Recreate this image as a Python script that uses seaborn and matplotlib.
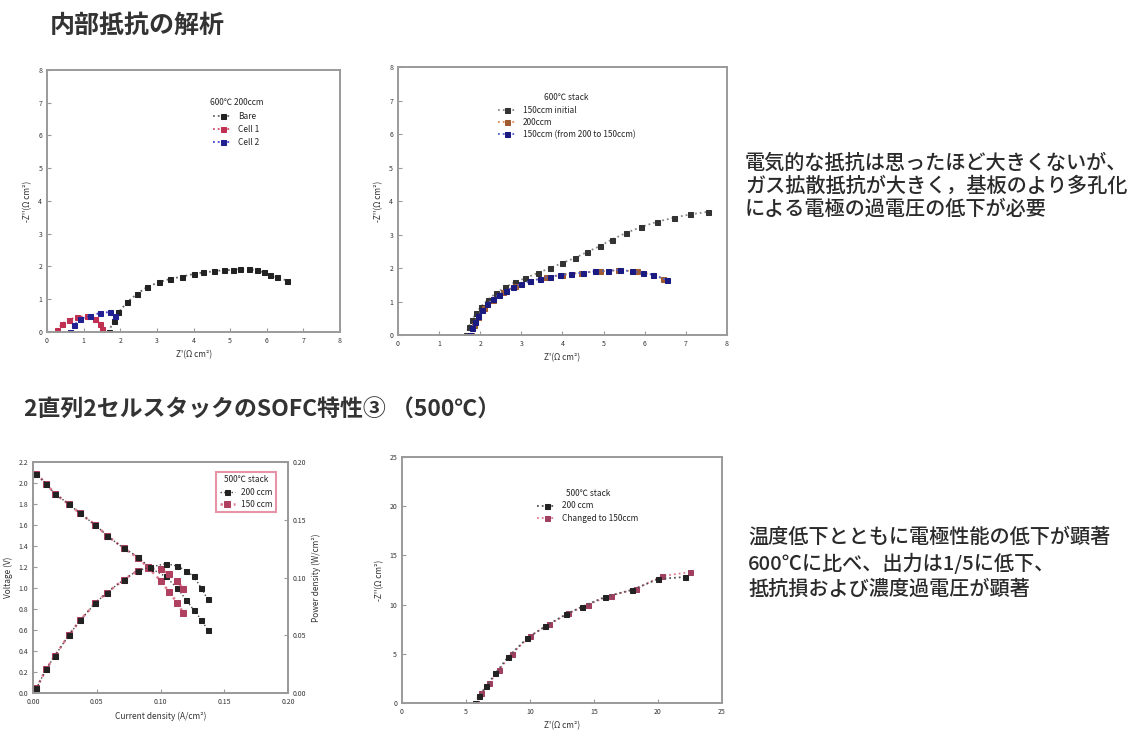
import matplotlib
matplotlib.use("Agg")
import matplotlib.pyplot as plt
import numpy as np
import seaborn as sns

# ---------------------------------------------------------------------------
# data
# ---------------------------------------------------------------------------
# top left: impedance, 600C 200ccm
bare_x = [1.68, 1.82, 1.95, 2.18, 2.45, 2.73, 3.05, 3.36, 3.68, 4.0, 4.27,
          4.55, 4.82, 5.09, 5.27, 5.5, 5.73, 5.91, 6.09, 6.27, 6.55]
bare_y = [0.0, 0.35, 0.6, 0.9, 1.16, 1.37, 1.52, 1.62, 1.69, 1.77, 1.82,
          1.85, 1.89, 1.89, 1.92, 1.92, 1.89, 1.82, 1.75, 1.67, 1.57]
cell1_x = [0.27, 0.41, 0.59, 0.82, 1.09, 1.32, 1.45, 1.5]
cell1_y = [0.05, 0.25, 0.37, 0.46, 0.48, 0.4, 0.25, 0.1]
cell2_x = [0.64, 0.73, 0.91, 1.18, 1.45, 1.73, 1.86]
cell2_y = [0.0, 0.2, 0.4, 0.5, 0.58, 0.61, 0.5]

# top right: impedance, 600C stack
init_x = [1.65, 1.72, 1.8, 1.9, 2.02, 2.18, 2.38, 2.6, 2.85, 3.1, 3.4, 3.7,
          4.0, 4.3, 4.6, 4.9, 5.2, 5.55, 5.9, 6.3, 6.7, 7.1, 7.55]
init_y = [0.0, 0.25, 0.45, 0.65, 0.85, 1.05, 1.25, 1.42, 1.58, 1.7, 1.85, 2.0,
          2.15, 2.3, 2.48, 2.65, 2.85, 3.05, 3.22, 3.38, 3.5, 3.6, 3.68]
c200_x = [1.78, 1.85, 1.95, 2.1, 2.3, 2.55, 2.85, 3.2, 3.6, 4.0, 4.45, 4.9,
          5.35, 5.8, 6.2, 6.45]
c200_y = [0.0, 0.3, 0.55, 0.8, 1.05, 1.27, 1.45, 1.6, 1.72, 1.8, 1.86, 1.9,
          1.93, 1.9, 1.8, 1.68]
back150_x = [1.75, 1.8, 1.87, 1.95, 2.05, 2.17, 2.3, 2.45, 2.62, 2.8, 3.0, 3.2,
             3.45, 3.7, 3.95, 4.2, 4.5, 4.8, 5.1, 5.4, 5.7, 5.95, 6.2, 6.55]
back150_y = [0.0, 0.2, 0.4, 0.58, 0.75, 0.92, 1.07, 1.2, 1.32, 1.43, 1.52, 1.6,
             1.68, 1.74, 1.79, 1.83, 1.86, 1.9, 1.92, 1.94, 1.9, 1.86, 1.8, 1.64]

# bottom left: I-V / I-P, 500C stack
i200 = [0.0026, 0.0105, 0.017, 0.028, 0.037, 0.049, 0.058, 0.071, 0.082,
        0.092, 0.104, 0.113, 0.120, 0.126, 0.132, 0.137]
v200 = [2.09, 1.99, 1.90, 1.80, 1.71, 1.60, 1.50, 1.38, 1.30,
        1.19, 1.11, 1.00, 0.89, 0.79, 0.70, 0.60]
p200 = [0.004, 0.021, 0.032, 0.050, 0.063, 0.078, 0.087, 0.098, 0.106,
        0.109, 0.112, 0.110, 0.106, 0.101, 0.091, 0.081]
i150 = [0.0026, 0.0105, 0.017, 0.028, 0.037, 0.049, 0.058, 0.071, 0.082,
        0.090, 0.100, 0.107, 0.113, 0.118]
v150 = [2.09, 1.99, 1.90, 1.80, 1.71, 1.60, 1.50, 1.38, 1.29,
        1.20, 1.07, 0.96, 0.86, 0.76]
p150 = [0.004, 0.021, 0.032, 0.050, 0.063, 0.078, 0.087, 0.098, 0.106,
        0.108, 0.107, 0.103, 0.097, 0.090]

# bottom right: impedance, 500C stack
s200_x = [5.7, 6.0, 6.6, 7.3, 8.3, 9.8, 11.2, 12.8, 14.1, 15.9, 18.0, 20.0, 22.1]
s200_y = [0.0, 0.7, 1.7, 3.0, 4.7, 6.6, 7.8, 9.0, 9.8, 10.8, 11.5, 12.6, 12.8]
s150_x = [5.8, 6.2, 6.8, 7.6, 8.6, 10.0, 11.5, 13.0, 14.5, 16.3, 18.3, 20.3, 22.5]
s150_y = [0.0, 1.0, 2.0, 3.4, 5.0, 6.8, 8.0, 9.1, 10.0, 10.9, 11.6, 12.9, 13.3]

# texts
title_top = "内部抵抗の解析"
title_bottom = "2直列2セルスタックのSOFC特性③ （500℃）"
note_top = ["電気的な抵抗は思ったほど大きくないが、",
            "ガス拡散抵抗が大きく，基板のより多孔化",
            "による電極の過電圧の低下が必要"]
note_bottom = ["温度低下とともに電極性能の低下が顕著",
               "600℃に比べ、出力は1/5に低下、",
               "抵抗損および濃度過電圧が顕著"]

# ---------------------------------------------------------------------------
sns.set_theme(style="ticks")
plt.rcParams["font.family"] = ["Noto Sans CJK JP", "DejaVu Sans"]
plt.rcParams["axes.edgecolor"] = "#9a9a9a"
plt.rcParams["xtick.color"] = "#9a9a9a"
plt.rcParams["ytick.color"] = "#9a9a9a"

TXT = "#333333"
TICK_FS = 5
LAB_FS = 6
LEG_FS = 6
MS = 3.6

fig = plt.figure(figsize=(11.42, 7.42), dpi=100)


def style_axes(ax, xticks, yticks, xfmt="{:g}", yfmt="{:g}"):
    ax.set_xlim(xticks[0], xticks[-1])
    ax.set_ylim(yticks[0], yticks[-1])
    ax.set_xticks(xticks)
    ax.set_yticks(yticks)
    ax.set_xticklabels([xfmt.format(t) for t in xticks], fontsize=TICK_FS, color=TXT)
    ax.set_yticklabels([yfmt.format(t) for t in yticks], fontsize=TICK_FS, color=TXT)
    ax.tick_params(direction="in", length=3, width=0.8)
    for sp in ax.spines.values():
        sp.set_visible(True)
        sp.set_linewidth(1.4)


def nyq(ax, x, y, color, mcolor, label, marker="s"):
    sns.lineplot(x=x, y=y, ax=ax, sort=False, estimator=None, color=color,
                 linestyle=":", linewidth=1.3, marker=marker, markersize=MS,
                 markerfacecolor=mcolor, markeredgecolor=mcolor, label=label)


# top left -------------------------------------------------------------------
ax1 = fig.add_axes([0.0412, 0.5526, 0.2566, 0.3531])
nyq(ax1, bare_x, bare_y, "#666666", "#222222", "Bare")
nyq(ax1, cell1_x, cell1_y, "#d04a6a", "#c03050", "Cell 1")
nyq(ax1, cell2_x, cell2_y, "#4040d0", "#202090", "Cell 2")
style_axes(ax1, list(range(9)), list(range(9)))
ax1.set_xlabel("Z'(Ω cm²)", fontsize=LAB_FS, color=TXT)
ax1.set_ylabel("-Z''(Ω cm²)", fontsize=LAB_FS, color=TXT)
ax1.legend(title="600℃ 200ccm", loc="upper left", bbox_to_anchor=(0.53, 0.92),
           fontsize=LEG_FS, title_fontsize=LEG_FS, frameon=False,
           handlelength=2.2, labelspacing=0.5)

# top right ------------------------------------------------------------------
ax2 = fig.add_axes([0.3485, 0.5485, 0.2881, 0.3612])
nyq(ax2, init_x, init_y, "#8a8a8a", "#333333", "150ccm initial")
nyq(ax2, c200_x, c200_y, "#e08a50", "#a05a30", "200ccm")
nyq(ax2, back150_x, back150_y, "#5060c8", "#1a1a80", "150ccm (from 200 to 150ccm)")
style_axes(ax2, list(range(9)), list(range(9)))
ax2.set_xlabel("Z'(Ω cm²)", fontsize=LAB_FS, color=TXT)
ax2.set_ylabel("-Z''(Ω cm²)", fontsize=LAB_FS, color=TXT)
ax2.legend(title="600℃ stack", loc="upper left", bbox_to_anchor=(0.28, 0.93),
           fontsize=LEG_FS, title_fontsize=LEG_FS, frameon=False,
           handlelength=2.2, labelspacing=0.4)

# bottom left ----------------------------------------------------------------
ax3 = fig.add_axes([0.0289, 0.066, 0.2233, 0.3113])
ax3r = ax3.twinx()
sns.lineplot(x=i150, y=v150, ax=ax3, sort=False, estimator=None, color="#e07a90",
             linestyle=":", linewidth=1.8, marker="s", markersize=MS + 0.6,
             markerfacecolor="#b04060", markeredgecolor="#b04060", label="150 ccm")
sns.lineplot(x=i200, y=v200, ax=ax3, sort=False, estimator=None, color="#444444",
             linestyle=":", linewidth=1.0, marker="s", markersize=MS,
             markerfacecolor="#222222", markeredgecolor="#222222", label="200 ccm")
sns.lineplot(x=i150, y=p150, ax=ax3r, sort=False, estimator=None, color="#e07a90",
             linestyle=":", linewidth=1.8, marker="s", markersize=MS + 0.6,
             markerfacecolor="#b04060", markeredgecolor="#b04060")
sns.lineplot(x=i200, y=p200, ax=ax3r, sort=False, estimator=None, color="#444444",
             linestyle=":", linewidth=1.0, marker="s", markersize=MS,
             markerfacecolor="#222222", markeredgecolor="#222222")
xt3 = [0.0, 0.05, 0.10, 0.15, 0.20]
style_axes(ax3, xt3, list(np.round(np.arange(0, 2.21, 0.2), 1)),
           xfmt="{:.2f}", yfmt="{:.1f}")
ax3r.set_ylim(0, 0.2)
ax3r.set_yticks([0.0, 0.05, 0.10, 0.15, 0.20])
ax3r.set_yticklabels(["0.00", "0.05", "0.10", "0.15", "0.20"], fontsize=TICK_FS, color=TXT)
ax3r.tick_params(direction="in", length=3, width=0.8)
ax3r.spines["right"].set_linewidth(1.4)
ax3.set_xlabel("Current density (A/cm²)", fontsize=LAB_FS, color=TXT)
ax3.set_ylabel("Voltage (V)", fontsize=LAB_FS, color=TXT)
ax3r.set_ylabel("Power density (W/cm²)", fontsize=LAB_FS, color=TXT)
h, l = ax3.get_legend_handles_labels()
leg3 = ax3.legend(h[::-1], l[::-1], title="500℃ stack", loc="upper right",
                  bbox_to_anchor=(0.97, 0.975), fontsize=LEG_FS,
                  title_fontsize=LEG_FS, frameon=True, fancybox=False,
                  handlelength=1.8, labelspacing=0.4)
leg3.get_frame().set_edgecolor("#e07a90")
leg3.get_frame().set_linewidth(1.5)

# bottom right ---------------------------------------------------------------
ax4 = fig.add_axes([0.352, 0.0526, 0.2802, 0.3315])
nyq(ax4, s150_x, s150_y, "#e07a90", "#a04060", "Changed to 150ccm")
nyq(ax4, s200_x, s200_y, "#555555", "#222222", "200 ccm")
style_axes(ax4, [0, 5, 10, 15, 20, 25], [0, 5, 10, 15, 20, 25])
ax4.set_xlabel("Z'(Ω cm²)", fontsize=LAB_FS, color=TXT)
ax4.set_ylabel("-Z''(Ω cm²)", fontsize=LAB_FS, color=TXT)
h, l = ax4.get_legend_handles_labels()
ax4.legend(h[::-1], l[::-1], title="500℃ stack", loc="upper left",
           bbox_to_anchor=(0.4, 0.9), fontsize=LEG_FS, title_fontsize=LEG_FS,
           frameon=False, handlelength=2.2, labelspacing=0.4)

# slide texts ----------------------------------------------------------------
fig.text(50 / 1142, 1 - 26 / 742, title_top, fontsize=18, color=TXT,
         fontweight="bold", va="center")
fig.text(24 / 1142, 1 - 410 / 742, title_bottom, fontsize=16.5, color=TXT,
         fontweight="bold", va="center")
for k, line in enumerate(note_top):
    fig.text(745 / 1142, 1 - (163 + 23 * k) / 742, line, fontsize=14.5,
             color="#2a2a2a", va="center", fontweight="medium")
for k, line in enumerate(note_bottom):
    fig.text(748 / 1142, 1 - (537 + 26 * k) / 742, line, fontsize=14.5,
             color="#2a2a2a", va="center", fontweight="medium")

fig.savefig("out.png", dpi=100, facecolor="white")
